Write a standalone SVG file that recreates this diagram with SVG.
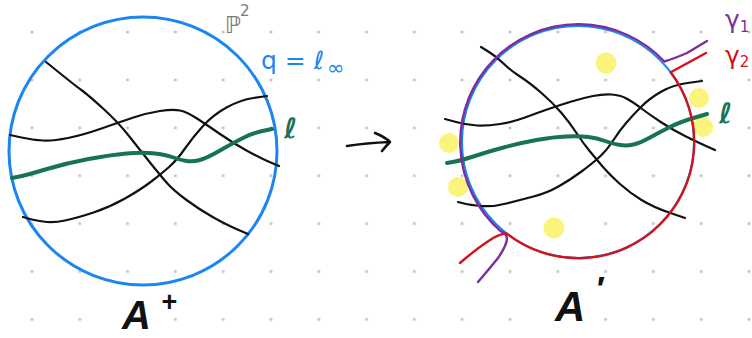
<svg xmlns="http://www.w3.org/2000/svg" width="752" height="338" viewBox="0 0 752 338">
<style>
.ln{fill:none;stroke:#111;stroke-width:2.2;stroke-linecap:round;stroke-linejoin:round}
.gr{fill:none;stroke:#177356;stroke-width:4;stroke-linecap:round;stroke-linejoin:round}
.bl{fill:none;stroke:#1b86f2}
.yd{fill:#fbf47c}
.lab{font-family:"DejaVu Sans","Liberation Sans",sans-serif}
.big{font-family:"Liberation Sans",Arial,sans-serif;font-style:italic;font-weight:bold;fill:#111}
</style>
<defs>
<pattern id="grid" x="8.1" y="8.05" width="47.8" height="47.9" patternUnits="userSpaceOnUse">
<circle cx="23.9" cy="23.95" r="1.6" fill="#c2c2c2"/>
</pattern>
</defs>
<rect width="752" height="338" fill="#fff"/>
<rect width="752" height="338" fill="url(#grid)"/>

<g id="left-disk">
<circle class="bl" cx="143" cy="151" r="134" stroke-width="3"/>
<path class="ln" d="M46,62 L61.5,74.5 Q77,87 82,90.5 Q87,94 102.5,108 Q118,122 129,136 Q140,150 150,162.5 Q160,175 166.5,182.5 Q173,190 186.5,200 Q200,210 213.5,217.5 Q227,225 237.5,229.5 L248,234"/>
<path class="ln" d="M10,135 L21.5,137.5 Q33,140 43,140.5 Q53,141 68,138 Q83,135 101.5,128.5 Q120,122 133.5,117.5 Q147,113 160,111 Q173,109 180,110.5 Q187,112 197,118.5 Q207,125 220,134 Q233,143 246.5,150.5 Q260,158 269.5,162 L279,166"/>
<path class="ln" d="M23,217 L28,218.5 Q33,220 43,221.5 Q53,223 65,220.5 Q77,218 93.5,212.5 Q110,207 125,198.5 Q140,190 150,182.5 Q160,175 168.5,167.5 Q177,160 185,148.5 Q193,137 203,126 Q213,115 226.5,107.5 Q240,100 253.5,98 L267,96"/>
<path class="gr" d="M12,178 L19.5,176.5 Q27,175 47,169 Q67,163 88.5,159 Q110,155 126.5,153.5 Q143,152 155,153.5 Q167,155 173.5,157.5 Q180,160 186.5,161 Q193,162 200,160 Q207,158 220,150.5 Q233,143 243,138 Q253,133 262.5,131 L272,129"/>
</g>

<g id="label-P2" class="lab" fill="#7a7a7a">
<text x="225" y="33" font-size="23">ℙ</text>
<text x="240" y="16" font-size="15">2</text>
</g>
<g id="label-q" class="lab" fill="#1b86f2">
<text x="261" y="69" font-size="25">q = ℓ<tspan dx="3" dy="6" font-size="21">∞</tspan></text>
</g>
<g id="label-l-left" class="lab" fill="#177356">
<text x="284" y="138" font-size="28" font-weight="bold">ℓ</text>
</g>
<g id="label-A-plus">
<text class="big" x="122" y="329" font-size="40">A</text>
<text class="big" x="161" y="311" font-size="27" font-style="normal">+</text>
</g>

<g id="right-disk">
<circle class="yd" cx="606" cy="63" r="10.5"/>
<circle class="yd" cx="699" cy="98" r="10"/>
<circle class="yd" cx="703" cy="127" r="10"/>
<circle class="yd" cx="449" cy="143" r="10"/>
<circle class="yd" cx="458" cy="187" r="10"/>
<circle class="yd" cx="554" cy="228" r="10.5"/>
<circle class="bl" cx="578" cy="142" r="116" stroke-width="2"/>
<path class="ln" d="M481,47 L489,52 Q497,57 503.5,63.5 Q510,70 520,76.5 Q530,83 541.5,93 Q553,103 561.5,113 Q570,123 576.5,133 Q583,143 590,151.5 Q597,160 603.5,167.5 Q610,175 620,184 Q630,193 641.5,200 Q653,207 669,212.5 L685,218"/>
<path class="ln" d="M445,119 L456,122 Q467,125 477,125.5 Q487,126 500,124 Q513,122 525,117.5 Q537,113 548.5,109 Q560,105 571.5,101.5 Q583,98 593,96 Q603,94 611.5,94.5 Q620,95 626.5,98.5 Q633,102 641.5,108.5 Q650,115 661.5,122.5 Q673,130 685,136 Q697,142 706,146 L715,150"/>
<path class="ln" d="M458,202 L464,203.5 Q470,205 481.5,206 Q493,207 506.5,203.5 Q520,200 533.5,196.5 Q547,193 558.5,186.5 Q570,180 581.5,171.5 Q593,163 600,156.5 Q607,150 613.5,140 Q620,130 626.5,122.5 Q633,115 641.5,106.5 Q650,98 661.5,91.5 Q673,85 687.5,83 L702,81"/>
<path class="gr" d="M447,163 L455,161.5 Q463,160 475,156 Q487,152 503.5,147.5 Q520,143 536.5,140 Q553,137 566.5,136.5 Q580,136 588.5,137 Q597,138 605,141 Q613,144 620,145 Q627,146 633.5,144.5 Q640,143 650,137.5 Q660,132 670,127 Q680,122 693.5,118 L707,114"/>
<path id="gamma1" d="M478,282 Q490,268 498,258 Q507,245 507,238 Q506,233 500.6,231.1 A118,118 0 1 1 664.3,61.5 Q673,59 687,53 L707,41" fill="none" stroke="#7b2e9c" stroke-width="2.4" stroke-linecap="round" stroke-linejoin="round"/>
<path id="gamma2" d="M460,263 Q475,250 487,242 Q498,234 506.5,233.4 A116,116 0 0 0 670.7,72.2 L706,53" fill="none" stroke="#d4111c" stroke-width="2.4" stroke-linecap="round" stroke-linejoin="round"/>
</g>

<g id="label-l-right" class="lab" fill="#177356">
<text x="719" y="123" font-size="28" font-weight="bold">ℓ</text>
</g>
<g id="label-gamma1" class="lab" fill="#7b2e9c">
<text x="725" y="28" font-size="25">γ<tspan font-size="15" dy="4">1</tspan></text>
</g>
<g id="label-gamma2" class="lab" fill="#d4111c">
<text x="725" y="64" font-size="25">γ<tspan font-size="15" dy="3">2</tspan></text>
</g>
<g id="label-A-prime">
<text class="big" x="555" y="321" font-size="42">A</text>
<text class="big" x="595" y="300" font-size="34" font-style="normal">′</text>
</g>

<g id="connectors">
<path d="M347,146 Q366,143 390,142 M375,133 Q385,137 390,142 Q386,146 382,151" fill="none" stroke="#111" stroke-width="2.6" stroke-linecap="round" stroke-linejoin="round"/>
</g>
</svg>
